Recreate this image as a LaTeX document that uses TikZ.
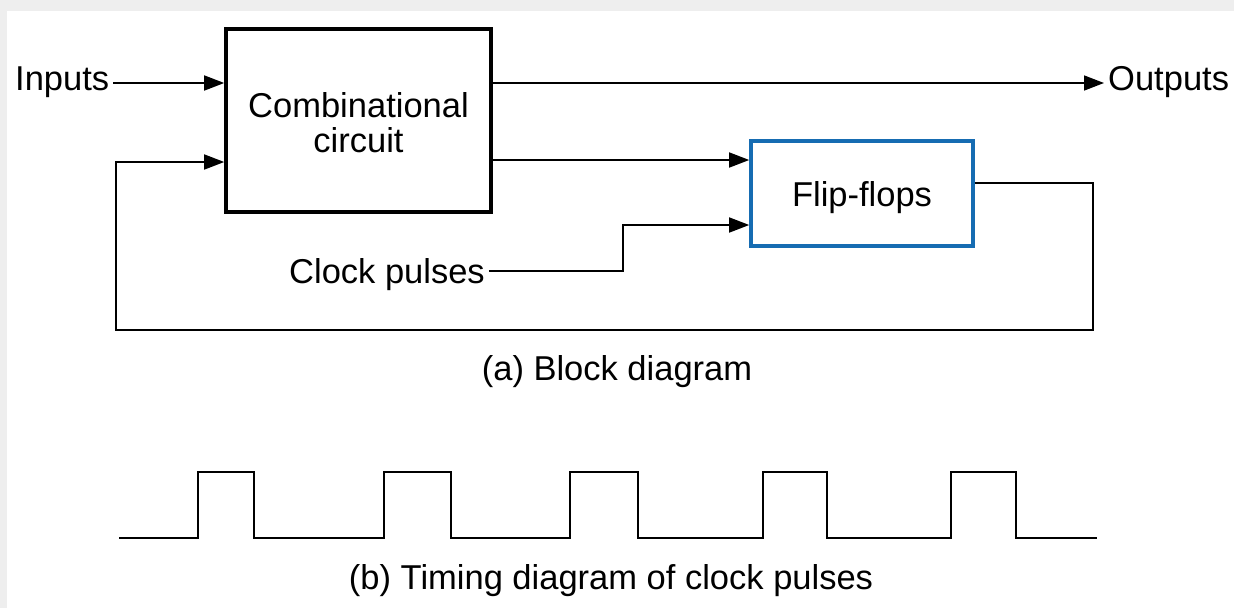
\documentclass[tikz,border=0pt]{standalone}
\usepackage{fontspec}
\setmainfont{Liberation Sans}
\usetikzlibrary{arrows.meta}
\definecolor{ffblue}{RGB}{22,108,178}
\definecolor{framegray}{RGB}{238,238,238}
\begin{document}
\begin{tikzpicture}[x=1pt,y=-1pt,
  lbl/.style={font=\fontsize{34.5}{32}\selectfont, inner xsep=4pt, inner ysep=0pt},
  wire/.style={line width=1.6pt},
  arr/.style={wire,-{Triangle[length=20pt,width=15pt]}},
  ccbox/.style={draw, line width=3.6pt, minimum width=265pt, minimum height=183pt, font=\fontsize{34.5}{32}\selectfont},
  ffboxst/.style={draw=ffblue, line width=3.6pt, minimum width=222pt, minimum height=105pt, font=\fontsize{34.5}{32}\selectfont},
  wave/.style={line width=1.5pt}]
\useasboundingbox (0,0) rectangle (1234,608);
\fill[framegray] (0,0) rectangle (1234,608);
\fill[white] (7,11) rectangle (1234,608);

\node[ccbox] (cc) at (358.5,120.5) {\raisebox{-7pt}[\height][\depth]{\begin{tabular}{@{}c@{}}Combinational\\circuit\end{tabular}}};
\node[ffboxst] (ff) at (862,193.5) {\raisebox{-4pt}[\height][\depth]{Flip-flops}};
\node[lbl, anchor=base west] (in) at (11,90) {Inputs};
\node[lbl, anchor=base west] (out) at (1104,90) {Outputs};
\node[lbl, anchor=base west] (clk) at (285,283) {Clock pulses};
\node[lbl] (capa) at (617,372) {(a) Block diagram};
\node[lbl] (capb) at (611,581) {(b) Timing diagram of clock pulses};

\coordinate (y83) at (0,83);
\coordinate (y160) at (0,160);
\coordinate (y183) at (0,183);
\coordinate (y271) at (0,271);
\coordinate (clkbend) at (623,225);
\coordinate (fbR) at (1093,330);
\coordinate (fbL) at (116,162);

\draw[arr] (in.east |- y83) -- (cc.west |- y83);
\draw[arr] (cc.east |- y83) -- (out.west |- y83);
\draw[arr] (cc.east |- y160) -- (ff.west |- y160);
\draw[arr] (clk.east |- y271) -| (clkbend) -- (ff.west |- clkbend);
\draw[arr] (ff.east |- y183) -| (fbR) -| (fbL) -- (cc.west |- fbL);

\draw[wave] (119,538) -- (198,538) -- (198,472) -- (254,472) -- (254,538)
  -- (384,538) -- (384,472) -- (451,472) -- (451,538)
  -- (570,538) -- (570,472) -- (638,472) -- (638,538)
  -- (763,538) -- (763,472) -- (827,472) -- (827,538)
  -- (951,538) -- (951,472) -- (1016,472) -- (1016,538)
  -- (1097,538);
\end{tikzpicture}
\end{document}
